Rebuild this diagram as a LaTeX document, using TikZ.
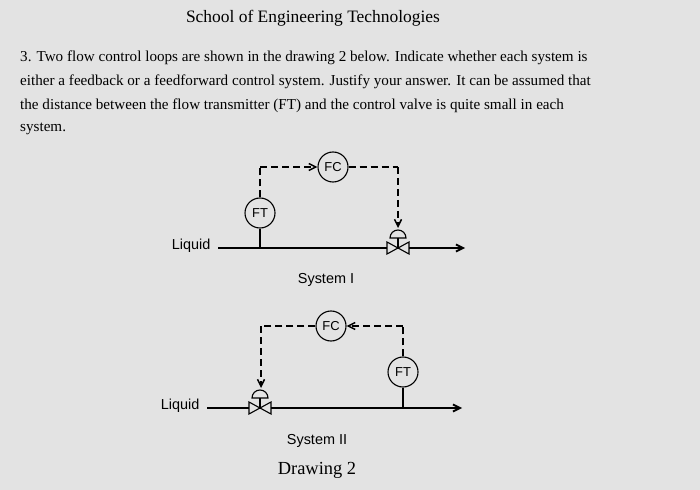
\documentclass[tikz,border=0pt]{standalone}
\usepackage{fontspec}
\setmainfont{Liberation Serif}
\setsansfont{Liberation Sans}
\usetikzlibrary{arrows.meta,calc}
\begin{document}
\begin{tikzpicture}[x=1bp,y=-1bp,
  inst/.style={circle,draw,line width=1.1bp,minimum size=30bp,inner sep=0pt,font=\sffamily\fontsize{13}{13}\selectfont},
  pipe/.style={line width=1.8bp},
  sig/.style={dashed,dash pattern=on 7bp off 4bp,line width=1.5bp},
  tip/.style={-{Straight Barb[length=7bp,width=7bp]}},
  lbl/.style={font=\sffamily\fontsize{14.5}{16}\selectfont},
  para/.style={anchor=west,font=\fontsize{15.2}{17}\selectfont,inner sep=0pt}]
\fill[gray!22] (0,0) rectangle (700,490);
\useasboundingbox (0,0) rectangle (700,490);
\node (title) at (313,18) {\fontsize{17.5}{20}\selectfont School of Engineering Technologies};
\node[para] (p1) at (20,58) {3. Two flow control loops are shown in the drawing 2 below. Indicate whether each system is};
\node[para] (p2) at (20,82) {either a feedback or a feedforward control system. Justify your answer. It can be assumed that};
\node[para] (p3) at (20,106) {the distance between the flow transmitter (FT) and the control valve is quite small in each};
\node[para] (p4) at (20,129) {system.};
% System I
\node[inst] (fc1) at (333,167) {FC};
\node[inst] (ft1) at (260,213) {FT};
\node[lbl,anchor=east] (liq1) at (214,246) {Liquid};
\coordinate (v1) at (398,248);
\coordinate (e1) at (465,248);
\coordinate (c1a) at (260,167);
\coordinate (c1b) at (398,167);
\coordinate (act1) at (398,228);
\draw[pipe] (218,248) -- ($(v1)+(-11,0)$);
\draw[pipe,tip] ($(v1)+(11,0)$) -- (e1);
\draw[pipe] (ft1.south) -- (260,248);
\draw[sig] (ft1.north) -- (c1a);
\draw[sig,tip] (c1a) -- (fc1.west);
\draw[sig] (fc1.east) -- (c1b);
\draw[sig,tip] (c1b) -- (act1);
\draw[line width=1.1bp] (390,238) arc (180:360:8) -- cycle;
\draw[line width=1.1bp] (398,238) -- (v1);
\draw[line width=1.1bp] ($(v1)+(-11,-6)$) -- ($(v1)+(11,6)$) -- ($(v1)+(11,-6)$) -- ($(v1)+(-11,6)$) -- cycle;
\node[lbl] (s1) at (326,280) {System I};
% System II
\node[inst] (fc2) at (331,326) {FC};
\node[inst] (ft2) at (403,372) {FT};
\node[lbl,anchor=east] (liq2) at (203,406) {Liquid};
\coordinate (v2) at (260,408);
\coordinate (e2) at (462,408);
\coordinate (c2a) at (403,326);
\coordinate (c2b) at (261,326);
\coordinate (act2) at (261,388);
\draw[pipe] (207,408) -- ($(v2)+(-11,0)$);
\draw[pipe,tip] ($(v2)+(11,0)$) -- (e2);
\draw[pipe] (ft2.south) -- (403,408);
\draw[sig] (ft2.north) -- (c2a);
\draw[sig,tip] (c2a) -- (fc2.east);
\draw[sig] (fc2.west) -- (c2b);
\draw[sig,tip] (c2b) -- (act2);
\draw[line width=1.1bp] (252,398) arc (180:360:8) -- cycle;
\draw[line width=1.1bp] (260,398) -- (v2);
\draw[line width=1.1bp] ($(v2)+(-11,-6)$) -- ($(v2)+(11,6)$) -- ($(v2)+(11,-6)$) -- ($(v2)+(-11,6)$) -- cycle;
\node[lbl] (s2) at (317,441) {System II};
\node (d2) at (317,470) {\fontsize{18.5}{21}\selectfont Drawing 2};
\end{tikzpicture}
\end{document}
